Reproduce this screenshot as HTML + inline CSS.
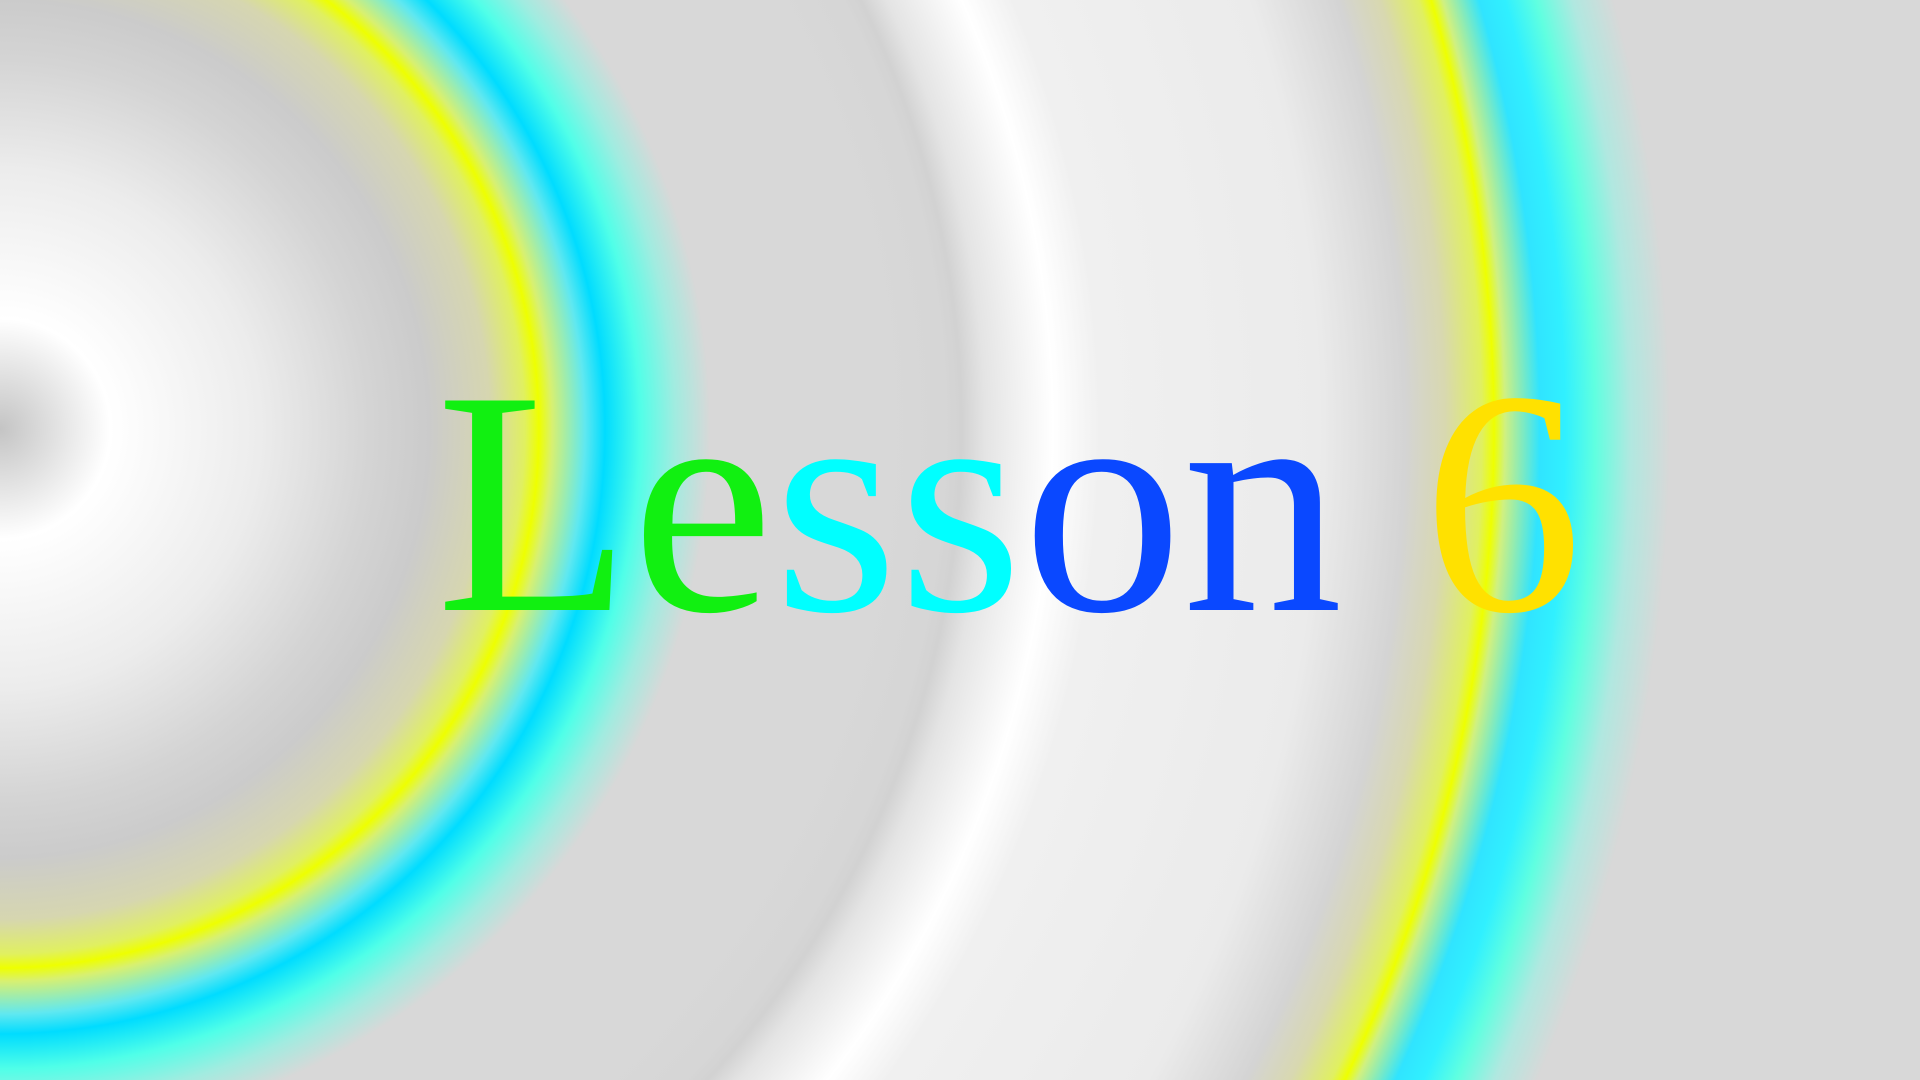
<!DOCTYPE html>
<html>
<head>
<meta charset="utf-8">
<style>
html,body{margin:0;padding:0;}
body{width:1920px;height:1080px;overflow:hidden;position:relative;
background:radial-gradient(circle at 0px 429px,
#c4c4c4 0px,#e4e4e4 60px,#ffffff 110px,#f6f6f6 180px,#ececec 260px,#d4d4d4 370px,#cbcbcb 429px,
#d6d6b0 490px,#e0f060 525px,#eeff00 539px,#d8f070 552px,#60e8f0 585px,#00dcff 605px,#50ffe8 640px,#a0ece0 675px,#d8d8d8 710px,
#d8d8d8 880px,#d6d6d6 945px,#d2d2d2 962px,#e4e4e4 985px,#ffffff 1053px,#f0f0f0 1100px,#ebebeb 1320px,#d4d4d4 1405px,
#d8d8b0 1445px,#e0f060 1482px,#eeff00 1494px,#d0f080 1505px,#30e4ff 1540px,#30f0ff 1565px,#60ffe0 1595px,#b0e8e0 1630px,#d8d8d8 1670px,#d8d8d8 2400px);}
svg{position:absolute;left:0;top:0;}
text{font-family:"Liberation Serif","Times New Roman",serif;}
</style>
</head>
<body>
<svg width="1920" height="1080">
<text x="436" y="610" style="font-family:'Liberation Serif','Times New Roman',serif;font-size:320px"><tspan fill="#11f011">Le</tspan><tspan fill="#00ffff">ss</tspan><tspan fill="#0a48ff">on</tspan><tspan fill="#ffe100"> 6</tspan></text>
</svg>
</body>
</html>
